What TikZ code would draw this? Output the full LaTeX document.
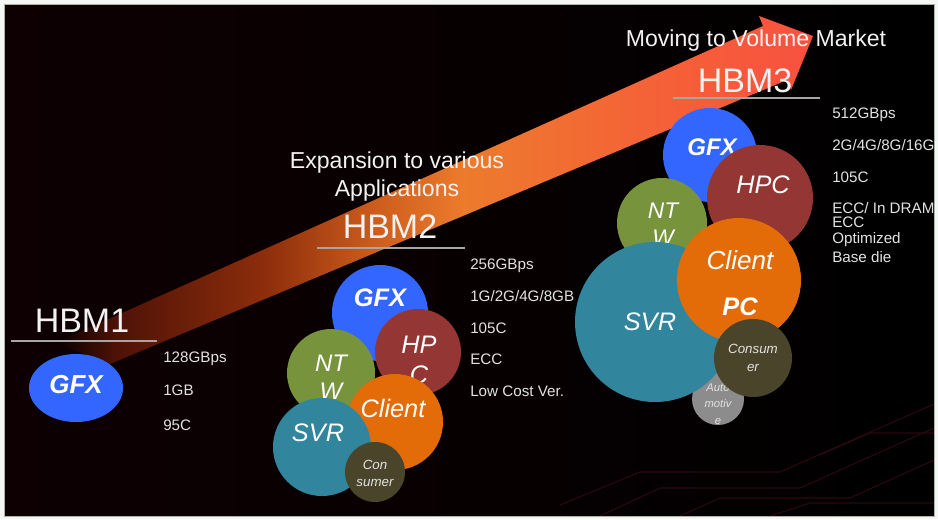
\documentclass[tikz,border=0pt]{standalone}
\usepackage{fontspec}
\setmainfont{Liberation Sans}
\usetikzlibrary{positioning,shapes.geometric}

\definecolor{gfxblue}{HTML}{3366FF}
\definecolor{hpcred}{HTML}{943634}
\definecolor{ntwgreen}{HTML}{77933C}
\definecolor{clientorange}{HTML}{E36C09}
\definecolor{svrteal}{HTML}{31859C}
\definecolor{consolive}{HTML}{4A452A}
\definecolor{autogray}{HTML}{8C8C8C}
\definecolor{headwhite}{HTML}{F2F2F2}
\definecolor{specgray}{HTML}{E2E2E2}
\definecolor{linegray}{HTML}{A6A6A6}
\definecolor{pagewhite}{HTML}{F5F7F5}
\definecolor{slideedge}{HTML}{A9B59C}
\definecolor{bgtl}{HTML}{0E0002}
\definecolor{circuitred}{HTML}{2C080F}
\definecolor{bandA}{HTML}{060000}
\definecolor{bandB}{HTML}{4E1206}
\definecolor{bandC}{HTML}{8E2E0C}
\definecolor{bandD}{HTML}{CC5C1C}
\definecolor{bandE}{HTML}{EC7B2C}
\definecolor{bandF}{HTML}{F46436}
\definecolor{bandG}{HTML}{F8513F}
\pgfdeclarehorizontalshading{bandshade}{100bp}{color(0bp)=(bandA); color(25bp)=(bandA); color(29bp)=(bandB); color(39bp)=(bandC); color(46bp)=(bandD); color(52bp)=(bandE); color(63bp)=(bandF); color(75bp)=(bandG); color(100bp)=(bandG)}

\newcommand\fs[2]{\fontsize{#1}{#2}\selectfont}

\begin{document}
\begin{tikzpicture}[x=0.75pt,y=-0.75pt,
bubble/.style={circle,inner sep=0pt,minimum size=#1*1.5pt},
lbl/.style={text=white,inner sep=0pt,align=center},
gen/.style={text=headwhite,inner sep=0pt,anchor=base,font=\fs{25.5}{30}},
slogan/.style={text=headwhite,inner sep=0pt,anchor=base,font=\fs{17.3}{20}},
spec/.style={text=specgray,inner sep=0pt,anchor=base west,font=\fs{11.4}{13}},
uline/.style={draw=linegray,line width=1.5pt},
trace/.style={draw=circuitred,line width=0.8pt}]

\useasboundingbox (0,0) rectangle (938,519);
\fill[pagewhite] (0,0) rectangle (938,519);
\shade[left color=bgtl,right color=black] (4,4) rectangle (934,516);

\draw[trace] (600,516) -- (660,488) -- (800,488) -- (934,428);
\draw[trace] (680,516) -- (720,498) -- (850,498) -- (934,460);
\draw[trace] (770,516) -- (810,503) -- (934,503);
\draw[trace] (560,505) -- (640,472) -- (780,472) -- (934,404);
\draw[trace] (820,455) -- (870,433) -- (934,433);
\draw[slideedge,line width=0.6pt] (4,4) rectangle (934,516);

% growth arrow
\shade[shading=bandshade] (55,343) -- (763,26) -- (759,16) -- (813,36)
  -- (791,90) -- (787,80) -- (110,364) -- cycle;

% HBM1
\coordinate (u1a) at (11,341);
\coordinate (u1b) at (157,341);
\draw[uline] (u1a) -- (u1b);
\node[gen] (hbm1) at (82,332) {HBM1};

\node[ellipse,fill=gfxblue,inner sep=0pt,minimum width=70.5pt,minimum height=51pt] (gfx1) at (76,388) {};
\node[lbl,font=\bfseries\itshape\fs{19.5}{22}] (gfx1t) at (76,385) {GFX};

\node[spec] (bw1) at (163,362) {128GBps};
\node[spec] (cap1) at (163,395) {1GB};
\node[spec] (tmp1) at (163,430) {95C};

% HBM2
\node[slogan] (exp1) at (397,168) {Expansion to various};
\node[slogan] (exp2) at (397,196) {Applications};
\coordinate (u2a) at (317,248);
\coordinate (u2b) at (465,248);
\draw[uline] (u2a) -- (u2b);
\node[gen] (hbm2) at (390,238) {HBM2};

\node[bubble=48,fill=gfxblue] (gfx2) at (380,313) {};
\node[lbl,font=\bfseries\itshape\fs{19}{22}] (gfx2t) at (380,298) {GFX};
\node[bubble=43,fill=hpcred] (hpc2) at (418,352) {};
\node[lbl,font=\itshape\fs{19}{22.5}] (hpc2t) at (419,360) {HP\\C};
\node[bubble=44,fill=ntwgreen] (ntw2) at (331,373) {};
\node[lbl,font=\itshape\fs{18}{21}] (ntw2t) at (331,377) {NT\\W};
\node[bubble=48,fill=clientorange] (cli2) at (395,422) {};
\node[lbl,font=\itshape\fs{19}{22}] (cli2t) at (393,408) {Client};
\node[bubble=49,fill=svrteal] (svr2) at (322,447) {};
\node[lbl,font=\itshape\fs{19}{22}] (svr2t) at (318,433) {SVR};
\node[bubble=30,fill=consolive] (con2) at (375,472) {};
\node[lbl,text=specgray,font=\itshape\fs{10}{12.75}] (con2t) at (375,473) {Con\\sumer};

\node[spec] (bw2) at (470,269) {256GBps};
\node[spec] (cap2) at (470,301) {1G/2G/4G/8GB};
\node[spec] (tmp2) at (470,333) {105C};
\node[spec] (ecc2) at (470,364) {ECC};
\node[spec] (low2) at (470,396) {Low Cost Ver.};

% HBM3
\node[slogan] (vol) at (756,46) {Moving to Volume Market};
\coordinate (u3a) at (673,98);
\coordinate (u3b) at (820,98);
\draw[uline] (u3a) -- (u3b);
\node[gen] (hbm3) at (745,92) {HBM3};

\node[bubble=47,fill=gfxblue] (gfx3) at (710,155) {};
\node[lbl,font=\bfseries\itshape\fs{18}{22}] (gfx3t) at (712,147) {GFX};
\node[bubble=53,fill=hpcred] (hpc3) at (760,198) {};
\node[lbl,font=\itshape\fs{19}{22}] (hpc3t) at (763,185) {HPC};
\node[bubble=45,fill=ntwgreen] (ntw3) at (662,223) {};
\node[lbl,font=\itshape\fs{17}{20}] (ntw3t) at (663,224) {NT\\W};
\node[bubble=26,fill=autogray] (aut3) at (718,399) {};
\node[lbl,text=specgray,font=\itshape\fs{8.4}{12.4}] (aut3t) at (718,404) {Auto\\motiv\\e};
\node[bubble=80,fill=svrteal] (svr3) at (655,322) {};
\node[lbl,font=\itshape\fs{19}{22}] (svr3t) at (650,322) {SVR};
\node[bubble=62,fill=clientorange] (cli3) at (739,280) {};
\node[lbl,font=\itshape\fs{19.6}{22}] (cli3t) at (740,260) {Client};
\node[lbl,font=\bfseries\itshape\fs{19}{22}] (pc3t) at (740,307) {PC};
\node[bubble=39,fill=consolive] (con3) at (753,358) {};
\node[lbl,text=specgray,font=\itshape\fs{10}{14}] (con3t) at (753,358) {Consum\\er};

\node[spec] (bw3) at (832,118) {512GBps};
\node[spec] (cap3) at (832,150) {2G/4G/8G/16G};
\node[spec] (tmp3) at (832,182) {105C};
\node[spec] (ecc3) at (832,213) {ECC/ In DRAM};
\node[spec] (ecc3b) at (832,227) {ECC};
\node[spec] (opt3) at (832,243) {Optimized};
\node[spec] (die3) at (832,262) {Base die};

\end{tikzpicture}
\end{document}
